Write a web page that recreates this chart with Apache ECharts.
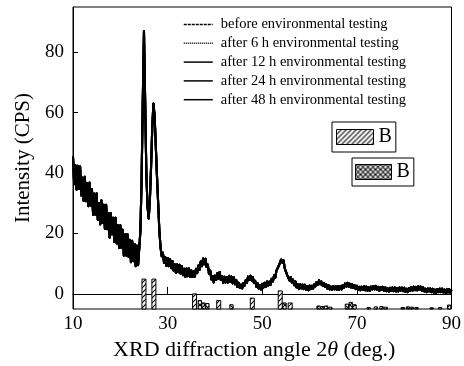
<!DOCTYPE html>
<html>
<head>
<meta charset="utf-8">
<script src="https://cdn.jsdelivr.net/npm/echarts@6/dist/echarts.min.js"></script>
<style>
  html, body { margin: 0; padding: 0; background: #fff; }
  #chart { width: 464px; height: 366px; }
</style>
</head>
<body>
<div id="chart"></div>
<script>
// Scan grid: 2θ from 10° to 90° in 0.25° steps
const angleStart = 10;
const angleStep = 0.25;

// Intensity (CPS), four readings per degree. The five scans coincide
// within counting noise, so they share one trace.
const counts = [
  45.5, 36.3, 42.6, 34.5,   // 10
  42.4, 34.8, 42.2, 32.6,   // 11
  38.5, 30.9, 38.8, 30.7,   // 12
  36.6, 29.0, 36.9, 29.3,   // 13
  34.7, 26.2, 33.2, 26.2,   // 14
  33.2, 24.6, 30.0, 23.0,   // 15
  31.0, 23.5, 29.5, 21.5,   // 16
  29.5, 21.4, 26.8, 18.7,   // 17
  26.7, 19.7, 25.2, 17.2,   // 18
  25.2, 16.7, 22.7, 15.2,   // 19
  22.7, 15.2, 21.2, 12.7,   // 20
  19.7, 12.7, 19.7, 12.3,   // 21
  17.9, 10.5, 17.6, 10.8,   // 22
  16.5, 9.2, 16.0, 9.5,     // 23
  15.0, 21.0, 38.0, 64.0,   // 24
  87.0, 64.0, 40.0, 29.0,   // 25
  25.0, 31.0, 42.0, 55.0,   // 26
  63.0, 59.0, 49.0, 39.0,   // 27
  30.0, 21.0, 15.5, 12.5,   // 28
  13.6, 10.3, 12.2, 9.3,    // 29
  11.9, 9.2, 11.5, 8.5,     // 30
  10.9, 7.8, 9.8, 7.0,      // 31
  9.8, 7.2, 9.6, 6.7,       // 32
  9.2, 6.2, 8.3, 5.6,       // 33
  8.4, 5.9, 8.4, 5.6,       // 34
  7.8, 5.6, 7.4, 5.7,       // 35
  8.3, 6.9, 9.4, 8.0,       // 36
  10.7, 9.2, 11.7, 9.8,     // 37
  11.6, 8.9, 9.7, 6.6,      // 38
  7.7, 4.8, 5.9, 3.8,       // 39
  6.1, 4.6, 6.8, 5.1,       // 40
  7.2, 4.6, 5.9, 3.7,       // 41
  5.7, 3.8, 5.6, 3.8,       // 42
  6.0, 4.0, 5.7, 3.5,       // 43
  5.5, 3.2, 4.6, 2.3,       // 44
  3.7, 2.0, 3.1, 1.8,       // 45
  3.6, 2.7, 4.5, 3.6,       // 46
  5.7, 4.6, 6.0, 4.4,       // 47
  5.6, 3.6, 4.3, 2.4,       // 48
  3.5, 1.8, 2.9, 1.5,       // 49
  3.3, 2.1, 3.7, 2.4,       // 50
  4.1, 2.7, 4.1, 3.0,       // 51
  5.0, 4.1, 6.1, 5.4,       // 52
  7.7, 7.1, 9.3, 8.9,       // 53
  11.4, 10.3, 11.1, 8.5,    // 54
  8.9, 6.3, 6.7, 4.5,       // 55
  5.6, 3.8, 4.7, 2.9,       // 56
  4.1, 2.2, 3.2, 1.6,       // 57
  3.2, 1.8, 3.1, 1.6,       // 58
  3.0, 1.4, 2.6, 1.2,       // 59
  2.8, 1.6, 2.7, 1.8,       // 60
  3.2, 2.5, 3.9, 3.0,       // 61
  4.5, 3.2, 4.1, 2.7,       // 62
  3.6, 2.3, 3.2, 1.8,       // 63
  2.9, 1.5, 2.4, 1.3,       // 64
  2.5, 1.5, 2.6, 1.4,       // 65
  2.6, 1.4, 2.5, 1.5,       // 66
  2.9, 2.1, 3.4, 2.4,       // 67
  3.7, 2.4, 3.4, 2.1,       // 68
  3.2, 2.0, 2.9, 1.6,       // 69
  2.7, 1.4, 2.3, 1.2,       // 70
  2.4, 1.4, 2.5, 1.2,       // 71
  2.4, 1.1, 2.2, 1.1,       // 72
  2.4, 1.5, 2.6, 1.5,       // 73
  2.7, 1.4, 2.3, 1.1,       // 74
  2.3, 1.3, 2.3, 1.1,       // 75
  2.2, 0.9, 1.9, 0.7,       // 76
  2.0, 1.0, 2.1, 0.9,       // 77
  2.1, 0.8, 1.9, 0.8,       // 78
  2.1, 1.1, 2.1, 0.9,       // 79
  2.0, 0.7, 1.7, 0.6,       // 80
  1.9, 1.0, 2.2, 1.1,       // 81
  2.4, 1.2, 2.3, 1.2,       // 82
  2.5, 1.4, 2.4, 1.1,       // 83
  2.2, 0.8, 1.7, 0.6,       // 84
  1.8, 0.8, 1.8, 0.6,       // 85
  1.7, 0.4, 1.4, 0.3,       // 86
  1.6, 0.6, 1.8, 0.6,       // 87
  1.8, 0.5, 1.4, 0.3,       // 88
  1.5, 0.5, 1.6, 0.4,       // 89
  1.4                       // 90
];

const scanNames = [
  'before environmental testing',
  'after 6 h environmental testing',
  'after 12 h environmental testing',
  'after 24 h environmental testing',
  'after 48 h environmental testing'
];

// Reference pattern lines (2θ position, top of bar in CPS)
const hatchAngle = [25.0, 27.1, 35.7, 40.8, 47.9, 53.8, 55.9];
const hatchTop   = [4.9, 4.9, 0.0, -2.2, -1.4, 1.0, -3.0];
const crossAngle = [36.8, 37.6, 38.4, 43.5, 54.7, 61.9, 62.7, 63.5, 64.4,
                    67.9, 68.7, 69.5, 72.5, 74.0, 75.2, 76.1, 79.7, 80.8,
                    81.6, 82.6, 85.8, 87.6, 89.5];
const crossTop   = [-2.2, -3.0, -3.2, -3.6, -3.0, -4.0, -4.2, -4.0, -4.4,
                    -3.4, -2.8, -3.6, -4.5, -4.3, -4.2, -4.4, -4.5, -4.3,
                    -4.4, -4.5, -4.6, -4.5, -3.7];

const yTicks = [0, 20, 40, 60, 80];
const Y_MIN = -5, Y_MAX = 95;
const SERIF = 'Liberation Serif';

function makePattern(cross) {
  const s = 5;
  const c = document.createElement('canvas');
  c.width = s; c.height = s;
  const g = c.getContext('2d');
  g.fillStyle = '#fff';
  g.fillRect(0, 0, s, s);
  g.strokeStyle = '#000';
  g.lineWidth = 1.1;
  g.beginPath();
  // rising diagonal "/"
  g.moveTo(-1, s + 1); g.lineTo(s + 1, -1);
  g.moveTo(-1, 1); g.lineTo(1, -1);
  g.moveTo(s - 1, s + 1); g.lineTo(s + 1, s - 1);
  if (cross) {
    // falling diagonal "\"
    g.moveTo(-1, -1); g.lineTo(s + 1, s + 1);
    g.moveTo(s - 1, -1); g.lineTo(s + 1, 1);
    g.moveTo(-1, s - 1); g.lineTo(1, s + 1);
  }
  g.stroke();
  return { image: c, repetition: 'repeat' };
}
const hatchFill = makePattern(false);
const crossFill = makePattern(true);

function barSeries(name, angles, tops, fill, width) {
  return {
    name: name,
    type: 'custom',
    silent: true,
    itemStyle: { color: fill, borderColor: '#000', borderWidth: 1 },
    data: angles.map((a, i) => [a, tops[i]]),
    renderItem: function (params, api) {
      const a = api.value(0), top = api.value(1);
      const p0 = api.coord([a - width / 2, top]);
      const p1 = api.coord([a + width / 2, Y_MIN]);
      return {
        type: 'rect',
        shape: { x: p0[0], y: p0[1], width: p1[0] - p0[0], height: p1[1] - p0[1] },
        style: { fill: fill, stroke: '#000', lineWidth: 1 }
      };
    },
    z: 3
  };
}

const lineTypes = [[3, 1], [1, 1], 'solid', 'solid', 'solid'];
const scanSeries = scanNames.map((n, k) => ({
  name: n,
  type: 'line',
  symbol: 'none',
  silent: true,
  animation: false,
  lineStyle: { color: '#000', width: 2.1, type: lineTypes[k], join: 'round' },
  itemStyle: { color: '#000' },
  data: counts.map((v, i) => [angleStart + i * angleStep, v]),
  z: 4
}));

const chart = echarts.init(document.getElementById('chart'), null, { renderer: 'canvas' });
chart.setOption({
  animation: false,
  backgroundColor: '#fff',
  grid: { left: 73, right: 11, top: 7, bottom: 57, show: true, borderColor: '#000', borderWidth: 1 },
  legend: [
    {
      orient: 'vertical', left: 183, top: 17, padding: 0,
      itemWidth: 29, itemHeight: 12, itemGap: 3.8,
      data: scanNames,
      selectedMode: false,
      lineStyle: { width: 1.5 },
      itemStyle: { color: 'transparent', borderWidth: 0, opacity: 0 },
      textStyle: { fontFamily: SERIF, fontSize: 14.5, lineHeight: 14, color: '#000', padding: [0, 0, 0, 3] }
    },
    {
      left: 332, top: 122, padding: [5, 4, 5, 4],
      borderColor: '#000', borderWidth: 1,
      itemWidth: 37, itemHeight: 15, icon: 'rect',
      selectedMode: false,
      data: ['B hatched'],
      formatter: () => 'B',
      itemStyle: { borderColor: '#000', borderWidth: 1 },
      textStyle: { fontFamily: SERIF, fontSize: 20, lineHeight: 15, color: '#000' }
    },
    {
      left: 352, top: 158, padding: [4, 4, 4, 3],
      borderColor: '#000', borderWidth: 1,
      itemWidth: 36, itemHeight: 15, icon: 'rect',
      selectedMode: false,
      data: ['B crossed'],
      formatter: () => 'B',
      itemStyle: { borderColor: '#000', borderWidth: 1 },
      textStyle: { fontFamily: SERIF, fontSize: 20, lineHeight: 15, color: '#000' }
    }
  ],
  xAxis: {
    type: 'value', min: 10, max: 90, interval: 20,
    axisLine: { lineStyle: { color: '#000', width: 1 } },
    axisTick: { inside: true, length: 7, lineStyle: { color: '#000' } },
    axisLabel: { color: '#000', fontFamily: SERIF, fontSize: 19, margin: 6 },
    splitLine: { show: false },
    name: 'XRD diffraction angle 2{i|θ} (deg.)',
    nameLocation: 'middle', nameGap: 22,
    nameTextStyle: {
      color: '#000', fontFamily: SERIF, fontSize: 22, padding: [0, 16, 0, 0],
      rich: { i: { fontFamily: SERIF, fontSize: 22, fontStyle: 'italic', color: '#000' } }
    }
  },
  yAxis: {
    type: 'value', min: Y_MIN, max: Y_MAX,
    axisLine: { lineStyle: { color: '#000', width: 1 } },
    axisTick: { inside: true, length: 5, customValues: yTicks, lineStyle: { color: '#000' } },
    axisLabel: { color: '#000', fontFamily: SERIF, fontSize: 19, margin: 9, customValues: yTicks },
    splitLine: { show: false },
    name: 'Intensity (CPS)',
    nameLocation: 'middle', nameGap: 36,
    nameTextStyle: { color: '#000', fontFamily: SERIF, fontSize: 21 }
  },
  series: [
    barSeries('B hatched', hatchAngle, hatchTop, hatchFill, 0.85),
    barSeries('B crossed', crossAngle, crossTop, crossFill, 0.7)
  ].concat(scanSeries)
});
</script>
</body>
</html>
